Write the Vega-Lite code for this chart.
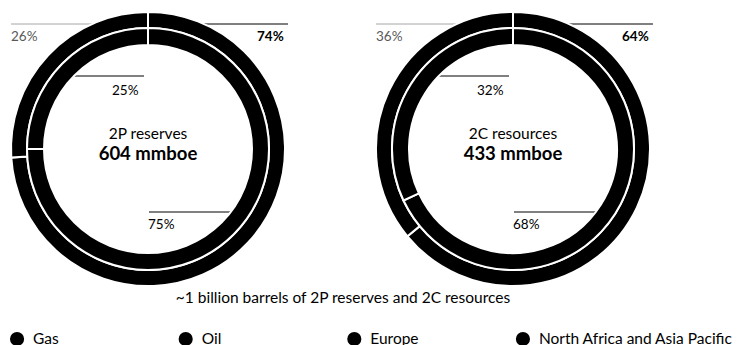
{
  "$schema": "https://vega.github.io/schema/vega-lite/v6.json",
  "autosize": {"type": "pad"},
  "padding": {"left": 7, "top": 8, "right": 0, "bottom": 0},
  "background": "white",
  "config": {"view": {"stroke": null}, "font": "Lato"},
  "datasets": {
    "shares": [
      {"chart": "2P reserves", "total": "604 mmboe", "ring": "outer", "category": "Gas", "share": 0.74},
      {"chart": "2P reserves", "total": "604 mmboe", "ring": "outer", "category": "Oil", "share": 0.26},
      {"chart": "2P reserves", "total": "604 mmboe", "ring": "inner", "category": "Europe", "share": 0.75},
      {"chart": "2P reserves", "total": "604 mmboe", "ring": "inner", "category": "North Africa and Asia Pacific", "share": 0.25},
      {"chart": "2C resources", "total": "433 mmboe", "ring": "outer", "category": "Gas", "share": 0.64},
      {"chart": "2C resources", "total": "433 mmboe", "ring": "outer", "category": "Oil", "share": 0.36},
      {"chart": "2C resources", "total": "433 mmboe", "ring": "inner", "category": "Europe", "share": 0.68},
      {"chart": "2C resources", "total": "433 mmboe", "ring": "inner", "category": "North Africa and Asia Pacific", "share": 0.32}
    ],
    "legendItems": [
      {"category": "Gas"},
      {"category": "Oil"},
      {"category": "Europe"},
      {"category": "North Africa and Asia Pacific"}
    ],
    "note": [{"text": "~1 billion barrels of 2P reserves and 2C resources"}]
  },
  "spacing": 0,
  "vconcat": [
    {
      "data": {"name": "shares"},
      "facet": {"column": {"field": "chart", "type": "nominal", "sort": ["2P reserves", "2C resources"], "header": null}},
      "spacing": 93,
      "bounds": "flush",
      "spec": {
        "width": 272,
        "height": 272,
        "layer": [
          {"transform": [{"filter": "datum.category === 'Gas'"}], "mark": {"type": "rule", "stroke": "#000000", "strokeWidth": 1}, "encoding": {"x": {"value": 190}, "x2": {"value": 276}, "y": {"value": 11}}},
          {"transform": [{"filter": "datum.category === 'Oil'"}], "mark": {"type": "rule", "stroke": "#a6a6a6", "strokeWidth": 1}, "encoding": {"x": {"value": -1}, "x2": {"value": 82}, "y": {"value": 11}}},
          {"transform": [{"filter": "datum.category === 'North Africa and Asia Pacific'"}], "mark": {"type": "rule", "stroke": "#000000", "strokeWidth": 1}, "encoding": {"x": {"value": 57}, "x2": {"value": 132}, "y": {"value": 63}}},
          {"transform": [{"filter": "datum.category === 'Europe'"}], "mark": {"type": "rule", "stroke": "#000000", "strokeWidth": 1}, "encoding": {"x": {"value": 137}, "x2": {"value": 220}, "y": {"value": 199}}},
          {
            "transform": [{"filter": "datum.ring === 'outer'"}],
            "mark": {"type": "arc", "outerRadius": 137, "innerRadius": 121, "stroke": "#ffffff", "strokeWidth": 2},
            "encoding": {
              "theta": {"field": "share", "type": "quantitative", "stack": true},
              "order": {"field": "share", "sort": "descending"},
              "color": {"field": "category", "type": "nominal", "scale": {"domain": ["Gas", "Oil", "Europe", "North Africa and Asia Pacific"], "range": ["#000000", "#000000", "#000000", "#000000"]}, "legend": null}
            }
          },
          {
            "transform": [{"filter": "datum.ring === 'inner'"}],
            "mark": {"type": "arc", "outerRadius": 121, "innerRadius": 104, "stroke": "#ffffff", "strokeWidth": 2},
            "encoding": {
              "theta": {"field": "share", "type": "quantitative", "stack": true},
              "order": {"field": "share", "sort": "descending"},
              "color": {"field": "category", "type": "nominal", "legend": null}
            }
          },
          {"transform": [{"filter": "datum.category === 'Gas'"}], "mark": {"type": "text", "align": "left", "baseline": "alphabetic", "fontSize": 13.5, "fontWeight": "bold", "fill": "#000000"}, "encoding": {"x": {"value": 245}, "y": {"value": 28}, "text": {"field": "share", "type": "quantitative", "format": ".0%"}}},
          {"transform": [{"filter": "datum.category === 'Oil'"}], "mark": {"type": "text", "align": "left", "baseline": "alphabetic", "fontSize": 13.5, "fill": "#595959"}, "encoding": {"x": {"value": -1}, "y": {"value": 28}, "text": {"field": "share", "type": "quantitative", "format": ".0%"}}},
          {"transform": [{"filter": "datum.category === 'North Africa and Asia Pacific'"}], "mark": {"type": "text", "align": "left", "baseline": "alphabetic", "fontSize": 13.5, "fill": "#000000"}, "encoding": {"x": {"value": 100}, "y": {"value": 82}, "text": {"field": "share", "type": "quantitative", "format": ".0%"}}},
          {"transform": [{"filter": "datum.category === 'Europe'"}], "mark": {"type": "text", "align": "left", "baseline": "alphabetic", "fontSize": 13.5, "fill": "#000000"}, "encoding": {"x": {"value": 136}, "y": {"value": 216}, "text": {"field": "share", "type": "quantitative", "format": ".0%"}}},
          {"transform": [{"filter": "datum.category === 'Gas'"}], "mark": {"type": "text", "align": "center", "baseline": "alphabetic", "dy": -10, "fontSize": 15.5, "fill": "#000000"}, "encoding": {"text": {"field": "chart", "type": "nominal"}}},
          {"transform": [{"filter": "datum.category === 'Gas'"}], "mark": {"type": "text", "align": "center", "baseline": "alphabetic", "dy": 11, "fontSize": 18.5, "fontWeight": "bold", "fill": "#000000"}, "encoding": {"text": {"field": "total", "type": "nominal"}}}
        ]
      }
    },
    {
      "data": {"name": "note"},
      "width": 662,
      "height": 22,
      "mark": {"type": "text", "align": "center", "baseline": "alphabetic", "dy": -4.5, "fontSize": 15.5, "fill": "#000000"},
      "encoding": {"text": {"field": "text", "type": "nominal"}}
    },
    {
      "data": {"name": "legendItems"},
      "width": 516,
      "height": 42,
      "layer": [
        {
          "mark": {"type": "point", "shape": "circle", "filled": true, "size": 200, "opacity": 1},
          "encoding": {
            "x": {"field": "category", "type": "nominal", "sort": ["Gas", "Oil", "Europe", "North Africa and Asia Pacific"], "scale": {"type": "point", "padding": 0.03}, "axis": null},
            "color": {"field": "category", "type": "nominal", "legend": null}
          }
        },
        {
          "mark": {"type": "text", "align": "left", "baseline": "middle", "dx": 16, "fontSize": 15.5, "fill": "#000000"},
          "encoding": {
            "x": {"field": "category", "type": "nominal", "sort": ["Gas", "Oil", "Europe", "North Africa and Asia Pacific"], "axis": null},
            "text": {"field": "category", "type": "nominal"}
          }
        }
      ]
    }
  ]
}
